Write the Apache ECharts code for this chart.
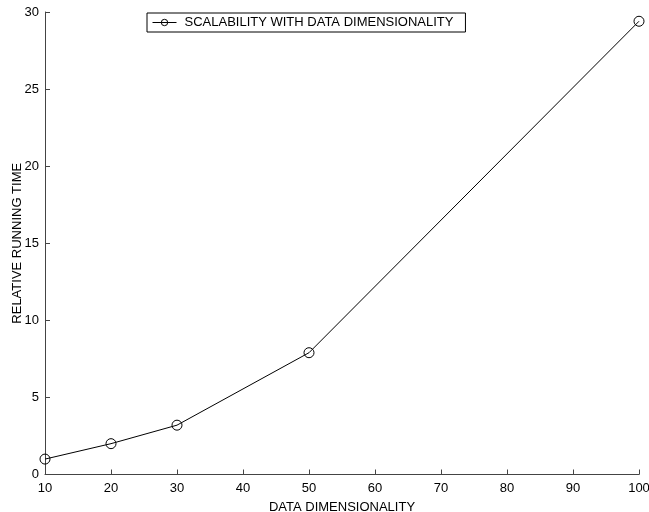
<!DOCTYPE html>
<html><head><meta charset="utf-8">
<script src="https://cdn.jsdelivr.net/npm/echarts@6/dist/echarts.min.js"></script>
<style>html,body{margin:0;padding:0;background:#fff;}#c{width:649px;height:512px;}</style>
</head><body><div id="c"></div>
<script>
const dimensions = [10, 20, 30, 50, 100];
const runningTime = [1.0, 2.0, 3.2, 7.9, 29.4];
const seriesName = 'SCALABILITY WITH DATA DIMENSIONALITY';
const xTitle = 'DATA DIMENSIONALITY';
const yTitle = 'RELATIVE RUNNING TIME';

const font = 'Liberation Sans, Arial, Helvetica, sans-serif';
const chart = echarts.init(document.getElementById('c'), null, {renderer: 'canvas'});
chart.setOption({
  animation: false,
  backgroundColor: '#fff',
  grid: {left: 45, right: 10, top: 12, bottom: 37.5, containLabel: false, outerBoundsMode: 'none'},
  legend: {
    left: 147, top: 13, padding: [3, 12, 3, 5],
    borderColor: '#000', borderWidth: 1, backgroundColor: '#fff',
    itemWidth: 24, itemHeight: 8, itemGap: 8,
    itemStyle: {borderWidth: 1, color: 'rgba(0,0,0,0)', borderColor: '#000'},
    lineStyle: {width: 1, color: '#000'},
    textStyle: {fontFamily: font, fontSize: 13, color: '#000', padding: [0, 0, 0, 3]},
    data: [seriesName]
  },
  xAxis: {
    type: 'value', min: 10, max: 100, interval: 10,
    name: xTitle, nameLocation: 'middle', nameGap: 26, nameMoveOverlap: false,
    nameTextStyle: {fontFamily: font, fontSize: 13, color: '#000'},
    axisLine: {lineStyle: {color: '#444', width: 1}},
    axisTick: {inside: true, length: 5, lineStyle: {color: '#444'}},
    axisLabel: {fontFamily: font, fontSize: 13, color: '#000', margin: 7},
    splitLine: {show: false}
  },
  yAxis: {
    type: 'value', min: 0, max: 30, interval: 5,
    name: yTitle, nameLocation: 'middle', nameGap: 21, nameMoveOverlap: false,
    nameTextStyle: {fontFamily: font, fontSize: 13, color: '#000'},
    axisLine: {show: true, lineStyle: {color: '#444', width: 1}},
    axisTick: {show: true, inside: true, length: 5, lineStyle: {color: '#444'}},
    axisLabel: {fontFamily: font, fontSize: 13, color: '#000', margin: 6},
    splitLine: {show: false}
  },
  series: [{
    name: seriesName, type: 'line',
    data: dimensions.map((d, i) => [d, runningTime[i]]),
    symbol: 'circle', symbolSize: 10,
    lineStyle: {color: '#000', width: 1},
    itemStyle: {color: 'rgba(0,0,0,0)', borderColor: '#000', borderWidth: 1},
    clip: false
  }]
});
</script></body></html>
